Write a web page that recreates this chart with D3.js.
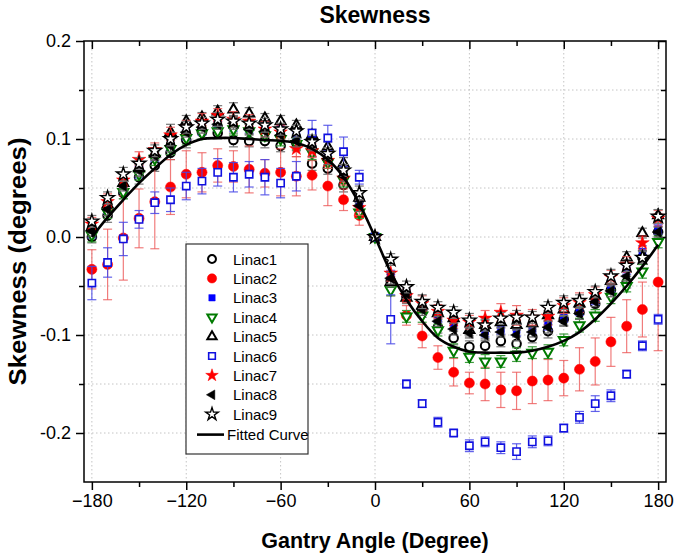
<!DOCTYPE html>
<html><head><meta charset="utf-8">
<script src="https://cdn.jsdelivr.net/npm/d3@7"></script>
<style>body{margin:0;background:#fff}svg{display:block}</style>
</head><body><svg id="c" width="676" height="554"></svg>
<script>
// ---------- data ----------
const angles = [-180,-170,-160,-150,-140,-130,-120,-110,-100,-90,-80,-70,-60,-50,-40,-30,-20,-10,0,10,20,30,40,50,60,70,80,90,100,110,120,130,140,150,160,170,180];
const seriesNames = ["Linac1","Linac2","Linac3","Linac4","Linac5","Linac6","Linac7","Linac8","Linac9"];
const linac1 = [0.000,0.022,0.045,0.061,0.073,0.086,0.099,0.107,0.106,0.099,0.098,0.098,0.093,0.096,0.075,0.070,0.053,0.038,0.000,-0.045,-0.061,-0.075,-0.092,-0.103,-0.112,-0.111,-0.106,-0.109,-0.102,-0.096,-0.084,-0.077,-0.068,-0.054,-0.046,-0.021,0.005];
const linac2 = [-0.033,-0.028,-0.001,0.019,0.036,0.051,0.064,0.066,0.073,0.072,0.069,0.065,0.066,0.062,0.063,0.052,0.038,0.022,0.000,-0.050,-0.080,-0.101,-0.123,-0.138,-0.149,-0.150,-0.156,-0.157,-0.147,-0.146,-0.144,-0.135,-0.127,-0.107,-0.091,-0.074,-0.046];
const linac3 = [0.004,0.030,0.050,0.066,0.082,0.095,0.104,0.110,0.113,0.114,0.112,0.113,0.112,0.103,0.098,0.082,0.064,0.035,0.000,-0.040,-0.055,-0.072,-0.082,-0.088,-0.092,-0.096,-0.094,-0.095,-0.093,-0.089,-0.082,-0.074,-0.064,-0.050,-0.033,-0.015,0.008];
const linac4 = [0.002,0.025,0.046,0.064,0.080,0.090,0.101,0.106,0.108,0.110,0.108,0.104,0.100,0.095,0.086,0.076,0.058,0.025,0.000,-0.054,-0.081,-0.080,-0.095,-0.116,-0.122,-0.127,-0.127,-0.120,-0.118,-0.117,-0.105,-0.090,-0.080,-0.061,-0.050,-0.035,-0.005];
const linac5 = [0.010,0.033,0.055,0.070,0.085,0.107,0.118,0.122,0.128,0.130,0.126,0.121,0.118,0.114,0.104,0.092,0.075,0.040,0.000,-0.046,-0.062,-0.070,-0.078,-0.083,-0.095,-0.090,-0.087,-0.090,-0.088,-0.080,-0.074,-0.068,-0.060,-0.045,-0.021,0.004,0.022];
const linac6 = [-0.047,-0.026,-0.002,0.018,0.035,0.038,0.052,0.057,0.066,0.061,0.064,0.061,0.055,0.062,0.106,0.101,0.087,0.061,0.000,-0.084,-0.150,-0.170,-0.189,-0.200,-0.213,-0.209,-0.215,-0.219,-0.209,-0.208,-0.195,-0.184,-0.170,-0.162,-0.140,-0.111,-0.084];
const linac7 = [0.013,0.036,0.058,0.079,0.089,0.104,0.112,0.118,0.124,0.120,0.118,0.110,0.107,0.090,0.088,0.078,0.060,0.030,0.000,-0.037,-0.060,-0.068,-0.076,-0.085,-0.087,-0.083,-0.077,-0.080,-0.082,-0.081,-0.070,-0.067,-0.059,-0.041,-0.028,-0.006,0.019];
const linac8 = [0.006,0.028,0.052,0.068,0.083,0.093,0.107,0.112,0.115,0.116,0.110,0.108,0.104,0.098,0.093,0.080,0.062,0.032,0.000,-0.042,-0.058,-0.074,-0.086,-0.094,-0.098,-0.100,-0.097,-0.100,-0.097,-0.092,-0.086,-0.078,-0.066,-0.055,-0.040,-0.020,0.005];
const linac9 = [0.016,0.040,0.064,0.075,0.088,0.100,0.112,0.116,0.120,0.118,0.116,0.114,0.110,0.108,0.097,0.085,0.068,0.045,0.000,-0.023,-0.051,-0.066,-0.072,-0.077,-0.085,-0.090,-0.083,-0.082,-0.082,-0.072,-0.067,-0.065,-0.056,-0.040,-0.029,-0.021,0.021];

const err1 = [0.006,0.007,0.006,0.007,0.006,0.007,0.008,0.007,0.006,0.007,0.006,0.007,0.006,0.008,0.007,0.006,0.007,0.006,0.001,0.007,0.006,0.007,0.006,0.007,0.006,0.007,0.006,0.007,0.006,0.007,0.006,0.007,0.006,0.007,0.006,0.007,0.006];
const err2 = [0.020,0.036,0.043,0.030,0.048,0.028,0.024,0.020,0.017,0.016,0.024,0.014,0.024,0.020,0.015,0.020,0.011,0.010,0.002,0.010,0.010,0.012,0.012,0.014,0.011,0.017,0.018,0.019,0.023,0.021,0.018,0.022,0.024,0.025,0.027,0.028,0.070];
const err3 = [0.005,0.006,0.005,0.006,0.005,0.006,0.005,0.006,0.005,0.006,0.006,0.005,0.006,0.005,0.006,0.005,0.006,0.005,0.001,0.006,0.005,0.006,0.005,0.006,0.005,0.006,0.005,0.006,0.005,0.006,0.005,0.006,0.005,0.006,0.005,0.006,0.005];
const err4 = [0.007,0.006,0.007,0.006,0.007,0.006,0.007,0.006,0.007,0.006,0.007,0.006,0.007,0.006,0.007,0.006,0.007,0.006,0.001,0.006,0.006,0.007,0.006,0.007,0.006,0.007,0.006,0.007,0.006,0.007,0.006,0.007,0.006,0.007,0.006,0.007,0.006];
const err5 = [0.006,0.005,0.006,0.005,0.006,0.008,0.006,0.005,0.006,0.007,0.006,0.005,0.006,0.005,0.006,0.005,0.006,0.005,0.001,0.005,0.006,0.005,0.006,0.005,0.006,0.005,0.006,0.005,0.006,0.005,0.006,0.005,0.006,0.005,0.006,0.005,0.006];
const err6 = [0.017,0.015,0.017,0.009,0.011,0.012,0.014,0.013,0.014,0.015,0.013,0.018,0.015,0.015,0.013,0.013,0.015,0.007,0.002,0.025,0.004,0.004,0.005,0.003,0.006,0.005,0.006,0.008,0.006,0.005,0.004,0.006,0.008,0.006,0.004,0.005,0.005];
const err7 = [0.007,0.008,0.007,0.008,0.007,0.008,0.007,0.008,0.007,0.008,0.007,0.008,0.007,0.008,0.007,0.008,0.007,0.008,0.001,0.008,0.007,0.008,0.007,0.008,0.007,0.008,0.009,0.010,0.008,0.009,0.008,0.010,0.008,0.007,0.008,0.007,0.008];
const err8 = [0.005,0.006,0.005,0.006,0.005,0.006,0.005,0.006,0.005,0.006,0.005,0.006,0.005,0.006,0.005,0.006,0.005,0.006,0.001,0.006,0.005,0.006,0.005,0.006,0.005,0.006,0.005,0.006,0.005,0.006,0.005,0.006,0.005,0.006,0.005,0.006,0.005];
const err9 = [0.006,0.006,0.007,0.006,0.006,0.007,0.006,0.006,0.007,0.006,0.006,0.007,0.006,0.006,0.007,0.006,0.006,0.007,0.001,0.006,0.006,0.007,0.006,0.006,0.007,0.006,0.006,0.007,0.006,0.006,0.007,0.006,0.006,0.007,0.006,0.006,0.007];

const fitAngles = [-180,-170,-160,-150,-140,-130,-120,-110,-100,-90,-80,-70,-60,-50,-40,-30,-20,-10,0,10,20,30,40,50,60,70,80,90,100,110,120,130,140,150,160,170,180];
const fitValues = [0.000,0.020,0.038,0.055,0.070,0.084,0.094,0.100,0.101,0.101,0.100,0.099,0.098,0.096,0.090,0.079,0.061,0.034,0.000,-0.036,-0.064,-0.086,-0.103,-0.112,-0.117,-0.118,-0.118,-0.118,-0.116,-0.112,-0.106,-0.097,-0.084,-0.068,-0.050,-0.030,-0.008];

const xMajorTicks = [-180,-120,-60,0,60,120,180];
const xMinorTicks = [-150,-90,-30,30,90,150];
const yMajorTicks = [-0.2,-0.1,0.0,0.1,0.2];
const yTickLabels = ["-0.2","-0.1","0.0","0.1","0.2"];
const yMinorTicks = [-0.15,-0.05,0.05,0.15];
const yGrid = [-0.2,-0.15,-0.1,-0.05,0,0.05,0.1,0.15];

const chartTitle = "Skewness";
const xTitle = "Gantry Angle (Degree)";
const yTitle = "Skewness (degrees)";
const fitName = "Fitted Curve";

// ---------- drawing ----------
const FONT = "'Liberation Sans', Arial, sans-serif";
const svg = d3.select("#c");
const L = 84, R = 666, T = 41, B = 482;
const x = d3.scaleLinear().domain([-185,185]).range([L,R]);
const y = d3.scaleLinear().domain([-0.25,0.2]).range([B,T]);

// grid
const grid = svg.append("g").attr("stroke","#c4c4c4").attr("stroke-width",1).attr("stroke-dasharray","1.5,2.5");
grid.selectAll(".gx").data(xMajorTicks).join("line").attr("x1",d=>x(d)).attr("x2",d=>x(d)).attr("y1",T).attr("y2",B);
grid.selectAll(".gy").data(yGrid).join("line").attr("x1",L).attr("x2",R).attr("y1",d=>y(d)).attr("y2",d=>y(d));

// axes
function styleAxis(g){ g.select(".domain").remove(); g.selectAll("line").attr("stroke","#000").attr("stroke-width",1.5); g.selectAll("text").attr("font-family",FONT).attr("font-size",18).attr("fill","#000"); }
svg.append("g").attr("transform",`translate(0,${B})`).call(d3.axisBottom(x).tickValues(xMajorTicks).tickSize(8).tickPadding(4).tickFormat(d3.format("d"))).call(styleAxis);
svg.append("g").attr("transform",`translate(0,${B})`).call(d3.axisBottom(x).tickValues(xMinorTicks).tickSize(5).tickFormat("")).call(styleAxis);
svg.append("g").attr("transform",`translate(0,${T})`).call(d3.axisBottom(x).tickValues(xMajorTicks).tickSize(8).tickFormat("")).call(styleAxis);
svg.append("g").attr("transform",`translate(0,${T})`).call(d3.axisBottom(x).tickValues(xMinorTicks).tickSize(5).tickFormat("")).call(styleAxis);
svg.append("g").attr("transform",`translate(${L},0)`).call(d3.axisLeft(y).tickValues(yMajorTicks).tickSize(8).tickPadding(5).tickFormat((d,i)=>yTickLabels[i])).call(styleAxis);
svg.append("g").attr("transform",`translate(${L},0)`).call(d3.axisLeft(y).tickValues(yMinorTicks).tickSize(5).tickFormat("")).call(styleAxis);
svg.append("g").attr("transform",`translate(${R},0)`).call(d3.axisLeft(y).tickValues(yMajorTicks).tickSize(8).tickFormat("")).call(styleAxis);
svg.append("g").attr("transform",`translate(${R},0)`).call(d3.axisLeft(y).tickValues(yMinorTicks).tickSize(5).tickFormat("")).call(styleAxis);
svg.append("rect").attr("x",L).attr("y",T).attr("width",R-L).attr("height",B-T).attr("fill","none").attr("stroke","#000").attr("stroke-width",1.5);

// series
const values = [linac1,linac2,linac3,linac4,linac5,linac6,linac7,linac8,linac9];
const errors = [err1,err2,err3,err4,err5,err6,err7,err8,err9];
const styles = [
  {type:d3.symbolCircle, size:58, rot:0, fill:"#fff", stroke:"#000", sw:2, ec:"#777"},
  {type:d3.symbolCircle, size:80, rot:0, fill:"#f00", stroke:"#f00", sw:0.5, ec:"rgba(235,80,80,0.75)"},
  {type:d3.symbolSquare, size:48, rot:0, fill:"#0000ff", stroke:"#0000ff", sw:0.5, ec:"#6b6bef"},
  {type:d3.symbolTriangle, size:44, rot:180, fill:"#fff", stroke:"#007a00", sw:2, ec:"#3d9c3d"},
  {type:d3.symbolTriangle, size:44, rot:0, fill:"#fff", stroke:"#000", sw:2, ec:"#777"},
  {type:d3.symbolSquare, size:52, rot:0, fill:"#fff", stroke:"#1010e0", sw:1.6, ec:"rgba(70,70,230,0.85)"},
  {type:d3.symbolStar, size:58, rot:0, fill:"#f00", stroke:"#f00", sw:0.5, ec:"rgba(235,80,80,0.8)"},
  {type:d3.symbolTriangle, size:48, rot:-90, fill:"#000", stroke:"#000", sw:0.5, ec:"#666"},
  {type:d3.symbolStar, size:58, rot:0, fill:"#fff", stroke:"#000", sw:1.4, ec:"#777"}
];

values.forEach((vals,si)=>{
  const st = styles[si];
  const g = svg.append("g");
  const pts = angles.map((a,i)=>({a, v:vals[i], e:errors[si][i]}));
  const eb = g.append("g").attr("stroke",st.ec).attr("stroke-width",1.2);
  eb.selectAll(".v").data(pts).join("line").attr("x1",d=>x(d.a)).attr("x2",d=>x(d.a)).attr("y1",d=>y(d.v+d.e)).attr("y2",d=>y(d.v-d.e));
  eb.selectAll(".t").data(pts).join("line").attr("x1",d=>x(d.a)-4.5).attr("x2",d=>x(d.a)+4.5).attr("y1",d=>y(d.v+d.e)).attr("y2",d=>y(d.v+d.e));
  eb.selectAll(".b").data(pts).join("line").attr("x1",d=>x(d.a)-4.5).attr("x2",d=>x(d.a)+4.5).attr("y1",d=>y(d.v-d.e)).attr("y2",d=>y(d.v-d.e));
  g.selectAll("path").data(pts).join("path")
    .attr("d",d3.symbol().type(st.type).size(st.size))
    .attr("transform",d=>`translate(${x(d.a)},${y(d.v)}) rotate(${st.rot})`)
    .attr("fill",st.fill).attr("stroke",st.stroke).attr("stroke-width",st.sw).attr("stroke-linejoin","miter");
});

// fitted curve
svg.append("path").datum(fitAngles.map((a,i)=>[a,fitValues[i]]))
  .attr("d",d3.line().x(d=>x(d[0])).y(d=>y(d[1])).curve(d3.curveCatmullRom.alpha(0.5)))
  .attr("fill","none").attr("stroke","#000").attr("stroke-width",2.6);

// titles
svg.append("text").attr("x",(L+R)/2).attr("y",23).attr("text-anchor","middle").attr("font-family",FONT).attr("font-weight","bold").attr("font-size",23).text(chartTitle);
svg.append("text").attr("x",(L+R)/2).attr("y",548).attr("text-anchor","middle").attr("font-family",FONT).attr("font-weight","bold").attr("font-size",21.5).text(xTitle);
svg.append("text").attr("transform",`translate(26,${(T+B)/2}) rotate(-90)`).attr("text-anchor","middle").attr("font-family",FONT).attr("font-weight","bold").attr("font-size",23)
  .attr("textLength",248).attr("lengthAdjust","spacingAndGlyphs").text(yTitle);

// legend
const lg = svg.append("g");
lg.append("rect").attr("x",186).attr("y",244).attr("width",122).attr("height",210).attr("fill","#fff").attr("stroke","#333").attr("stroke-width",1.2);
const rowY = i => 259 + i*19.4;
seriesNames.forEach((name,i)=>{
  const st = styles[i];
  lg.append("path").attr("d",d3.symbol().type(st.type).size(st.size*0.85)())
    .attr("transform",`translate(212,${rowY(i)}) rotate(${st.rot})`)
    .attr("fill",st.fill).attr("stroke",st.stroke).attr("stroke-width",st.sw);
  lg.append("text").attr("x",233).attr("y",rowY(i)+5.5).attr("font-family",FONT).attr("font-size",15).text(name);
});
lg.append("line").attr("x1",197).attr("x2",224).attr("y1",rowY(9)+1).attr("y2",rowY(9)+1).attr("stroke","#000").attr("stroke-width",2.6);
lg.append("text").attr("x",227).attr("y",rowY(9)+6.5).attr("font-family",FONT).attr("font-size",15).text(fitName);
</script></body></html>
